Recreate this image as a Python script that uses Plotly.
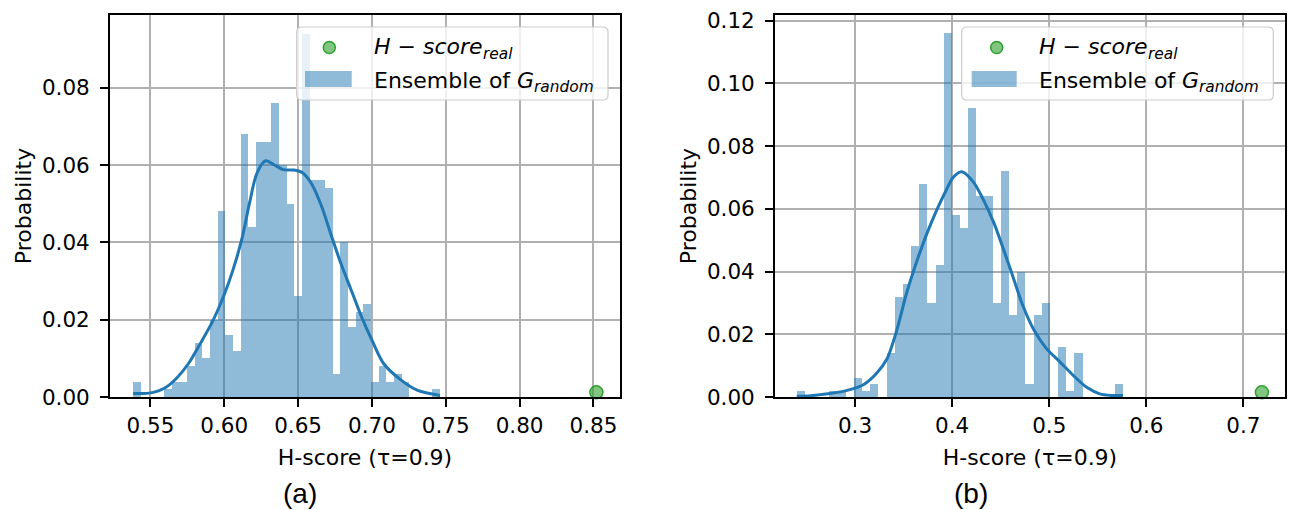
import numpy as np
import plotly.graph_objects as go

W, H = 1291, 510

# ---------------- data ----------------
# panel (a): 40 histogram bins between min and max of the ensemble, heights = probability
a_min, a_max = 0.5383, 0.7461
a_prob = [0.004, 0, 0, 0, 0.002, 0.004, 0.004, 0.008, 0.014, 0.010,
          0.020, 0.048, 0.016, 0.012, 0.068, 0.044, 0.066, 0.066, 0.076, 0.060,
          0.050, 0.026, 0.094, 0.056, 0.056, 0.054, 0.006, 0.040, 0.018, 0.022,
          0.024, 0.004, 0.008, 0.004, 0.006, 0.004, 0, 0, 0, 0.002]
a_kde_x = [0.5383, 0.545, 0.552, 0.560, 0.568, 0.576, 0.584, 0.592, 0.600, 0.606,
           0.612, 0.617, 0.622, 0.628, 0.634, 0.640, 0.647, 0.653, 0.659, 0.666,
           0.672, 0.679, 0.686, 0.693, 0.700, 0.708, 0.720, 0.731, 0.7461]
a_kde_y = [0.0009, 0.0009, 0.0012, 0.0024, 0.0050, 0.0088, 0.0140, 0.0195, 0.0265, 0.0330,
           0.0410, 0.0500, 0.0578, 0.0611, 0.0600, 0.0588, 0.0587, 0.0580, 0.0552, 0.0492,
           0.0423, 0.0345, 0.0276, 0.0207, 0.0147, 0.0086, 0.0043, 0.0017, 0.0004]
a_real_x, a_real_y = [0.852], [0.0012]
a_xticks = [0.55, 0.60, 0.65, 0.70, 0.75, 0.80, 0.85]
a_yticks = [0.00, 0.02, 0.04, 0.06, 0.08]

# panel (b)
b_min, b_max = 0.2400, 0.5763
b_prob = [0.002, 0, 0, 0, 0.002, 0.002, 0, 0.006, 0.002, 0.004,
          0, 0.014, 0.032, 0.036, 0.048, 0.068, 0.030, 0.042, 0.116, 0.058,
          0.054, 0.092, 0.064, 0.064, 0.030, 0.072, 0.026, 0.040, 0.004, 0.026,
          0.030, 0, 0.016, 0.002, 0.014, 0, 0, 0, 0, 0.004]
b_kde_x = [0.240, 0.254, 0.274, 0.292, 0.309, 0.322, 0.333, 0.343, 0.353, 0.364,
           0.374, 0.384, 0.394, 0.401, 0.410, 0.422, 0.432, 0.443, 0.453, 0.463,
           0.473, 0.484, 0.497, 0.511, 0.525, 0.539, 0.552, 0.564, 0.576]
b_kde_y = [0.0002, 0.0004, 0.0011, 0.0021, 0.0040, 0.0075, 0.0122, 0.0213, 0.0330, 0.0436,
           0.0521, 0.0595, 0.0660, 0.0700, 0.0718, 0.0685, 0.0630, 0.0555, 0.0470, 0.0380,
           0.0290, 0.0215, 0.0155, 0.0112, 0.0068, 0.0030, 0.0010, 0.0005, 0.0005]
b_real_x, b_real_y = [0.719], [0.0015]
b_xticks = [0.3, 0.4, 0.5, 0.6, 0.7]
b_yticks = [0.00, 0.02, 0.04, 0.06, 0.08, 0.10, 0.12]

x_title = "H-score (τ=0.9)"
y_title = "Probability"

# ---------------- styling ----------------
BAR = "rgba(31,119,180,0.5)"
LINE = "#1f77b4"
GFILL = "rgba(44,160,44,0.6)"
GEDGE = "rgb(44,160,44)"
FONT = "DejaVu Sans"
ML, MR, MT, MB = 110, 6, 15, 113
PW, PH = W - ML - MR, H - MT - MB


def px(x):
    return (x - ML) / PW


def py(y):
    return 1 - (y - MT) / PH


def bins(lo, hi, n):
    edges = np.linspace(lo, hi, n + 1)
    return (edges[:-1] + edges[1:]) / 2, edges[1] - edges[0]


fig = go.Figure()
for (lo, hi, prob, kx, ky, rx, ry, xa, ya) in [
    (a_min, a_max, a_prob, a_kde_x, a_kde_y, a_real_x, a_real_y, "x", "y"),
    (b_min, b_max, b_prob, b_kde_x, b_kde_y, b_real_x, b_real_y, "x2", "y2"),
]:
    c, w = bins(lo, hi, len(prob))
    fig.add_trace(go.Bar(x=c, y=prob, width=w, marker=dict(color=BAR, line=dict(width=0)),
                         name="Ensemble of G_random", xaxis=xa, yaxis=ya, showlegend=False))
    fig.add_trace(go.Scatter(x=kx, y=ky, mode="lines", line=dict(color=LINE, width=3, shape="spline", smoothing=0.8),
                             xaxis=xa, yaxis=ya, showlegend=False, name="KDE"))
    fig.add_trace(go.Scatter(x=rx, y=ry, mode="markers", cliponaxis=False,
                             marker=dict(size=13, color=GFILL, line=dict(color=GEDGE, width=1.5)),
                             xaxis=xa, yaxis=ya, showlegend=False, name="H-score real"))

axis_common = dict(
    showline=True, linecolor="black", linewidth=1.8, mirror=True,
    ticks="outside", ticklen=8, tickwidth=1.6, tickcolor="black",
    showgrid=True, gridcolor="#b0b0b0", gridwidth=1.5, zeroline=False,
    tickfont=dict(family=FONT, size=21.5, color="black"),
    automargin=False,
)
title_font = dict(family=FONT, size=22, color="black")

fig.update_layout(
    width=W, height=H,
    margin=dict(l=ML, r=MR, t=MT, b=MB),
    paper_bgcolor="white", plot_bgcolor="white",
    bargap=0, barmode="overlay",
    showlegend=False,
    xaxis=dict(domain=[0, 510 / PW], range=[0.5226, 0.868], tickvals=a_xticks,
               ticktext=[f"{v:.2f}" for v in a_xticks],
               title=dict(text=x_title, font=title_font, standoff=13), **axis_common),
    yaxis=dict(domain=[0, 1], range=[0, 0.0988], tickvals=a_yticks,
               ticktext=[f"{v:.2f}" for v in a_yticks], ticklabelstandoff=6,
               title=dict(text=y_title, font=title_font, standoff=4), **axis_common),
    xaxis2=dict(domain=[665 / PW, 1], range=[0.2176, 0.7428], tickvals=b_xticks,
                ticktext=[f"{v:.1f}" for v in b_xticks], anchor="y2",
                title=dict(text=x_title, font=title_font, standoff=13), **axis_common),
    yaxis2=dict(domain=[0, 1], range=[0, 0.1218], tickvals=b_yticks, anchor="x2",
                ticktext=[f"{v:.2f}" for v in b_yticks], ticklabelstandoff=6,
                title=dict(text=y_title, font=title_font, standoff=4), **axis_common),
)

# legends drawn in each panel (box, symbols, text)
shapes, annots = [], []


def rounded_rect(x0, y0, x1, y1, r):
    pts = [
        ("M", x0 + r, y0), ("L", x1 - r, y0), ("Q", x1, y0, x1, y0 + r),
        ("L", x1, y1 - r), ("Q", x1, y1, x1 - r, y1), ("L", x0 + r, y1),
        ("Q", x0, y1, x0, y1 - r), ("L", x0, y0 + r), ("Q", x0, y0, x0 + r, y0),
    ]
    s = ""
    for p in pts:
        if p[0] == "Q":
            s += f"Q{px(p[1]):.5f},{py(p[2]):.5f} {px(p[3]):.5f},{py(p[4]):.5f} "
        else:
            s += f"{p[0]}{px(p[1]):.5f},{py(p[2]):.5f} "
    return s + "Z"


def txt(x, y, s, size=22, italic=False, anchor="left"):
    return dict(xref="paper", yref="paper", x=px(x), y=py(y), xanchor=anchor, yanchor="middle",
                showarrow=False, text=s,
                font=dict(family=FONT, size=size, color="black", style="italic" if italic else "normal"))


for (bx0, bx1, cx, patch0, patch1, tx) in [
    (296.7, 608.0, 329.3, 305.0, 351.7, 371.7),
    (961.7, 1273.3, 996.7, 971.7, 1016.7, 1037.3),
]:
    shapes.append(dict(type="path", xref="paper", yref="paper", layer="above",
                       path=rounded_rect(bx0, 27, bx1, 100, 5),
                       fillcolor="rgba(255,255,255,0.8)", line=dict(color="#cccccc", width=1.2)))
    shapes.append(dict(type="circle", xref="paper", yref="paper", layer="above",
                       x0=px(cx - 6), x1=px(cx + 6), y0=py(47.5 + 6), y1=py(47.5 - 6),
                       fillcolor=GFILL, line=dict(color=GEDGE, width=1.5)))
    shapes.append(dict(type="rect", xref="paper", yref="paper", layer="above",
                       x0=px(patch0), x1=px(patch1), y0=py(87), y1=py(71),
                       fillcolor=BAR, line=dict(width=0)))
    # "H − score" with subscript "real"
    annots.append(txt(tx, 47, "H − score", italic=True))
    annots.append(txt(tx + 109, 54, "real", size=15.4, italic=True))
    # "Ensemble of G" with subscript "random"
    annots.append(txt(tx, 80, "Ensemble of"))
    annots.append(txt(tx + 143, 80, "G", italic=True))
    annots.append(txt(tx + 160, 87, "random", size=15.4, italic=True))

annots.append(dict(xref="paper", yref="paper", x=px(300), y=py(493), xanchor="center", yanchor="middle",
                   showarrow=False, font=dict(family="Liberation Sans", size=28, color="black"), text="(a)"))
annots.append(dict(xref="paper", yref="paper", x=px(971), y=py(493), xanchor="center", yanchor="middle",
                   showarrow=False, font=dict(family="Liberation Sans", size=28, color="black"), text="(b)"))

fig.update_layout(shapes=shapes, annotations=annots)
fig.write_html("out.html")
